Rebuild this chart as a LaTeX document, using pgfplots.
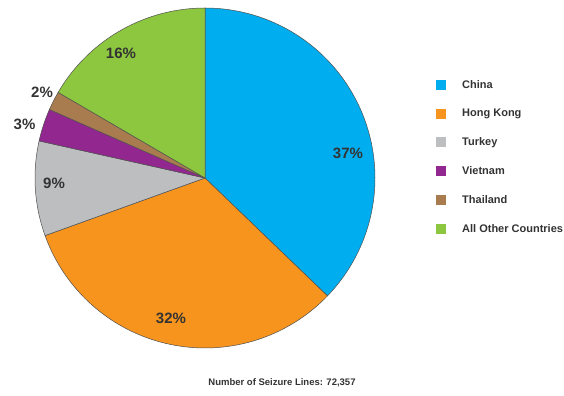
\documentclass[border=0pt]{standalone}
\usepackage{pgfplots}
\pgfplotsset{compat=1.18}
\usepackage{fontspec}
\setmainfont{Liberation Sans}
\definecolor{cChina}{HTML}{00AEEF}
\definecolor{cHK}{HTML}{F7941D}
\definecolor{cTurkey}{HTML}{BCBEC0}
\definecolor{cViet}{HTML}{92278F}
\definecolor{cThai}{HTML}{A97C50}
\definecolor{cOther}{HTML}{8DC63F}
\definecolor{edge}{HTML}{505050}
\definecolor{txt}{HTML}{333333}
\begin{document}
\begin{tikzpicture}
\useasboundingbox (0,0) rectangle (564bp,396bp);
\begin{axis}[
  scale only axis, width=564bp, height=396bp,
  xmin=0, xmax=564, ymin=0, ymax=396, enlargelimits=false,
  hide axis, clip=false,
  legend image code/.code={\fill[#1, draw=none] (0bp,-5bp) rectangle (10bp,5bp); \path[draw=none, fill=none] (0bp,0bp) -- (24bp,0bp);},
  legend style={at={(axis cs:436,318)}, anchor=north west, draw=none, fill=none,
    font=\fontsize{11bp}{12bp}\selectfont\bfseries\color{txt},
    row sep=15.5bp, inner sep=0pt},
  legend cell align=left,
]
% Pie centred at (205,218), radius 170; shares: 37.2, 32.3, 9.0, 3.1, 1.8, 16.6 (%)
\addplot[fill=cChina, draw=edge, line width=0.5bp, domain=-43.92:90, samples=80, variable=\t]
  ({205+170*cos(\t)},{218+170*sin(\t)}) -- (axis cs:205,218) -- cycle;
\addlegendentry{China}
\addplot[fill=cHK, draw=edge, line width=0.5bp, domain=-160.2:-43.92, samples=80, variable=\t]
  ({205+170*cos(\t)},{218+170*sin(\t)}) -- (axis cs:205,218) -- cycle;
\addlegendentry{Hong Kong}
\addplot[fill=cTurkey, draw=edge, line width=0.5bp, domain=-192.6:-160.2, samples=30, variable=\t]
  ({205+170*cos(\t)},{218+170*sin(\t)}) -- (axis cs:205,218) -- cycle;
\addlegendentry{Turkey}
\addplot[fill=cViet, draw=edge, line width=0.5bp, domain=-203.76:-192.6, samples=15, variable=\t]
  ({205+170*cos(\t)},{218+170*sin(\t)}) -- (axis cs:205,218) -- cycle;
\addlegendentry{Vietnam}
\addplot[fill=cThai, draw=edge, line width=0.5bp, domain=-210.24:-203.76, samples=10, variable=\t]
  ({205+170*cos(\t)},{218+170*sin(\t)}) -- (axis cs:205,218) -- cycle;
\addlegendentry{Thailand}
\addplot[fill=cOther, draw=edge, line width=0.5bp, domain=-270:-210.24, samples=40, variable=\t]
  ({205+170*cos(\t)},{218+170*sin(\t)}) -- (axis cs:205,218) -- cycle;
\addlegendentry{All Other Countries}
\begin{scope}[every node/.style={font=\fontsize{15bp}{17bp}\selectfont\bfseries, text=txt}]
\node at (axis cs:348,243) {37\%};
\node at (axis cs:171,78) {32\%};
\node at (axis cs:54,213) {9\%};
\node at (axis cs:24.5,272) {3\%};
\node at (axis cs:42,304) {2\%};
\node at (axis cs:121,343) {16\%};
\end{scope}
\node[font=\fontsize{9.5bp}{11bp}\selectfont\bfseries, text=txt] at (axis cs:282,13) {Number of Seizure Lines: 72,357};
\end{axis}
\end{tikzpicture}
\end{document}
